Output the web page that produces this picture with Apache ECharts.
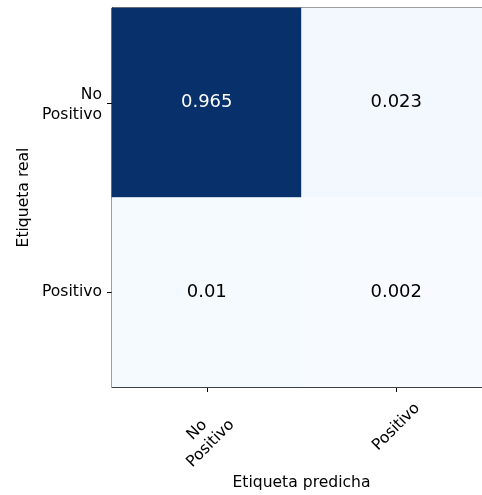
<!DOCTYPE html>
<html>
<head>
<meta charset="utf-8">
<script src="https://cdn.jsdelivr.net/npm/echarts@6/dist/echarts.min.js"></script>
<style>
  html, body { margin: 0; padding: 0; background: #fff; }
  #chart { width: 482px; height: 495px; }
</style>
</head>
<body>
<div id="chart"></div>
<script>
// Normalized confusion matrix (rows: true label, columns: predicted label)
const predictedLabels = ['No\nPositivo', 'Positivo'];
const trueLabels = ['No\nPositivo', 'Positivo'];
const rowNoPositivo = [0.965, 0.023];
const rowPositivo = [0.01, 0.002];
const matrixRows = [rowNoPositivo, rowPositivo];

// Matplotlib "Blues" colormap stops
const bluesStops = ['#f7fbff', '#deebf7', '#c6dbef', '#9ecae1', '#6baed6',
                    '#4292c6', '#2171b5', '#08519c', '#08306b'];

const allValues = matrixRows.flat();
const vMin = Math.min(...allValues);
const vMax = Math.max(...allValues);
const threshold = vMax / 2;

const cells = [];
matrixRows.forEach((row, r) => {
  row.forEach((v, c) => {
    cells.push({
      value: [c, r, v],
      label: { color: v > threshold ? '#ffffff' : '#000000' }
    });
  });
});

const font = 'DejaVu Sans';
const baseText = { fontFamily: font, fontSize: 15.6, color: '#000' };
const wrapLabel = v => v.indexOf('\n') >= 0 ? '{two|' + v + '}' : '{one|' + v + '}';

const chart = echarts.init(document.getElementById('chart'), null, { renderer: 'canvas' });

chart.setOption({
  animation: false,
  backgroundColor: '#ffffff',
  grid: {
    left: 112, top: 8, width: 379, height: 379,
    outerBoundsMode: 'none',
    containLabel: false,
    show: true, borderColor: '#000', borderWidth: 1, backgroundColor: 'transparent'
  },
  xAxis: {
    type: 'category',
    data: predictedLabels,
    position: 'bottom',
    name: 'Etiqueta predicha',
    nameLocation: 'middle',
    nameGap: 88,
    nameMoveOverlap: false,
    nameTextStyle: baseText,
    axisLine: { show: true, lineStyle: { color: '#000', width: 1 } },
    axisTick: { show: true, alignWithLabel: true, length: 5, lineStyle: { color: '#000' } },
    axisLabel: Object.assign({}, baseText, {
      rotate: 45, margin: 40, align: 'center', verticalAlign: 'middle',
      lineHeight: 19,
      hideOverlap: false,
      formatter: wrapLabel,
      rich: {
        one: Object.assign({}, baseText, { lineHeight: 19 }),
        two: Object.assign({}, baseText, { lineHeight: 19, align: 'center', padding: [10, 18, 0, 0] })
      }
    }),
    splitLine: { show: false },
    splitArea: { show: false }
  },
  yAxis: {
    type: 'category',
    data: trueLabels,
    inverse: true,
    name: 'Etiqueta real',
    nameLocation: 'middle',
    nameRotate: 90,
    nameGap: 80,
    nameMoveOverlap: false,
    nameTextStyle: baseText,
    axisLine: { show: true, lineStyle: { color: '#000', width: 1 } },
    axisTick: { show: true, alignWithLabel: true, length: 5, lineStyle: { color: '#000' } },
    axisLabel: Object.assign({}, baseText, {
      margin: 10, align: 'right', lineHeight: 20,
      formatter: wrapLabel,
      rich: {
        one: Object.assign({}, baseText, { lineHeight: 20 }),
        two: Object.assign({}, baseText, { lineHeight: 20, align: 'right', padding: [5, 0, 0, 0] })
      }
    }),
    splitLine: { show: false },
    splitArea: { show: false }
  },
  visualMap: {
    show: false,
    min: vMin,
    max: vMax,
    dimension: 2,
    inRange: { color: bluesStops }
  },
  series: [{
    type: 'heatmap',
    data: cells,
    label: {
      show: true,
      fontFamily: font,
      fontSize: 18,
      formatter: p => String(p.value[2])
    },
    itemStyle: { borderWidth: 0 },
    emphasis: { disabled: true }
  }]
});
</script>
</body>
</html>
